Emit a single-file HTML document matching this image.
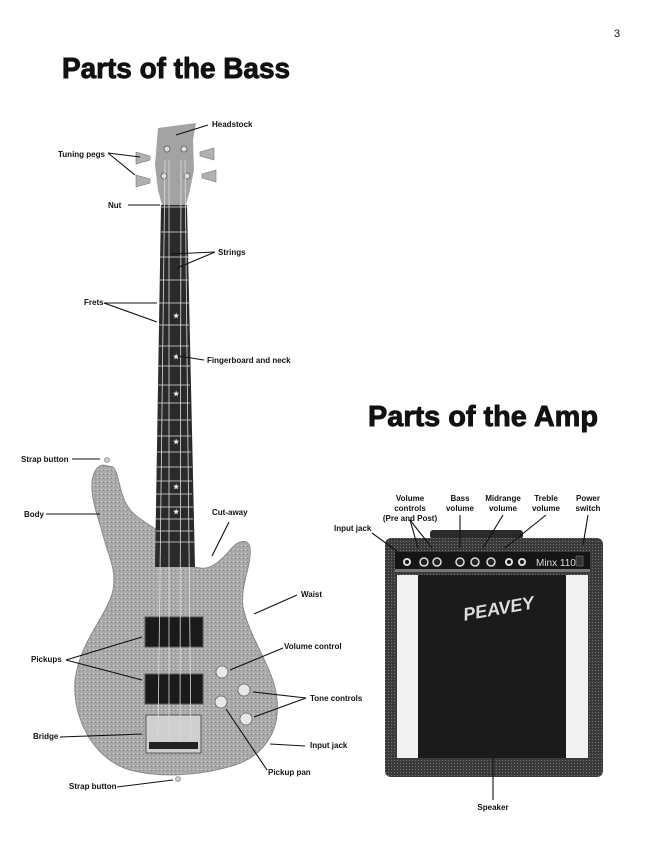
<!DOCTYPE html>
<html><head><meta charset="utf-8"><style>
html,body{margin:0;padding:0;background:#fff;}
svg{display:block;}
text{font-family:"Liberation Sans",sans-serif;font-weight:bold;fill:#111;}
.l{font-size:8px;}
</style></head><body>
<svg width="648" height="864" viewBox="0 0 648 864" xmlns="http://www.w3.org/2000/svg">
<defs>
<pattern id="spk" width="4" height="4" patternUnits="userSpaceOnUse">
<rect width="4" height="4" fill="#a9a9a9"/><rect x="1" y="1" width="1" height="1" fill="#d8d8d8"/><rect x="3" y="2" width="1" height="1" fill="#888"/>
</pattern>
<pattern id="tolex" width="3" height="3" patternUnits="userSpaceOnUse">
<rect width="3" height="3" fill="#3a3a3a"/><rect x="1" y="1" width="1" height="1" fill="#777"/>
</pattern>
</defs>
<text x="614" y="37" style="font-size:11px;font-weight:normal">3</text>
<text x="62" y="78" style="font-size:29px;stroke:#111;stroke-width:0.9" textLength="228" lengthAdjust="spacingAndGlyphs">Parts of the Bass</text>
<text x="368" y="426" style="font-size:29px;stroke:#111;stroke-width:0.9" textLength="230" lengthAdjust="spacingAndGlyphs">Parts of the Amp</text>

<!-- BASS -->
<path d="M103,465 C96,466 91,475 92,490 C93,505 99,520 103,535 C108,555 117,570 113,590 C108,615 80,640 75,680 C72,720 95,760 130,770 C160,778 200,776 235,765 C265,755 280,730 277,700 C275,670 250,640 243,607 C240,585 252,565 250,548 C248,538 238,540 230,550 C220,562 210,570 200,568 L193,567 L157,530 C145,522 132,515 127,505 C120,495 118,470 113,467 Z" fill="url(#spk)" stroke="#8a8a8a" stroke-width="1"/>
<path d="M158,128 L196,123 L193,140 L194,170 L190,190 L186,205 L162,205 L158,190 L155,165 L157,140 Z" fill="#a3a3a3"/>
<g fill="#b0b0b0" stroke="#777" stroke-width="0.6">
<path d="M136,152 L150,156 L150,160 L136,164 Z"/><path d="M136,175 L150,179 L150,183 L136,187 Z"/>
<path d="M214,148 L200,152 L200,156 L214,160 Z"/><path d="M216,170 L202,174 L202,178 L216,182 Z"/>
</g>
<g fill="#ddd" stroke="#555" stroke-width="0.8"><circle cx="167" cy="149" r="3"/><circle cx="184" cy="149" r="3"/><circle cx="164" cy="176" r="3"/><circle cx="187" cy="176" r="3"/></g>
<path d="M161,205 L187,205 L195,567 L155,567 Z" fill="#2a2a2a"/>
<g stroke="#e6e6e6" stroke-width="0.7">
<line x1="161" y1="207" x2="187" y2="207"/><line x1="161" y1="232" x2="187" y2="232"/><line x1="160" y1="257" x2="188" y2="257"/>
<line x1="160" y1="280" x2="188" y2="280"/><line x1="159" y1="303" x2="189" y2="303"/><line x1="159" y1="325" x2="189" y2="325"/>
<line x1="159" y1="346" x2="189" y2="346"/><line x1="158" y1="366" x2="190" y2="366"/><line x1="158" y1="385" x2="190" y2="385"/>
<line x1="158" y1="403" x2="190" y2="403"/><line x1="157" y1="420" x2="191" y2="420"/><line x1="157" y1="436" x2="191" y2="436"/>
<line x1="157" y1="452" x2="191" y2="452"/><line x1="157" y1="467" x2="192" y2="467"/><line x1="156" y1="481" x2="192" y2="481"/>
<line x1="156" y1="494" x2="192" y2="494"/><line x1="156" y1="507" x2="193" y2="507"/><line x1="156" y1="519" x2="193" y2="519"/>
<line x1="156" y1="531" x2="193" y2="531"/><line x1="155" y1="542" x2="194" y2="542"/>
</g>
<g><text x="173" y="318" style="fill:#eee;font-size:7px">★</text><text x="173" y="359" style="fill:#eee;font-size:7px">★</text><text x="173" y="396" style="fill:#eee;font-size:7px">★</text><text x="173" y="444" style="fill:#eee;font-size:7px">★</text><text x="173" y="489" style="fill:#eee;font-size:7px">★</text><text x="173" y="514" style="fill:#eee;font-size:7px">★</text></g>
<rect x="145" y="617" width="58" height="30" fill="#1a1a1a" stroke="#555"/>
<rect x="145" y="674" width="58" height="30" fill="#1a1a1a" stroke="#555"/>
<rect x="146" y="715" width="55" height="38" fill="#cfcfcf" stroke="#555"/>
<rect x="149" y="742" width="49" height="7" fill="#222"/>
<g fill="#e8e8e8" stroke="#666" stroke-width="0.8"><circle cx="222" cy="672" r="6"/><circle cx="244" cy="690" r="6"/><circle cx="221" cy="702" r="6"/><circle cx="246" cy="719" r="6"/></g>
<g stroke="#ddd" stroke-width="0.8">
<line x1="165" y1="160" x2="158" y2="740"/><line x1="169" y1="160" x2="169" y2="740"/><line x1="181" y1="160" x2="180" y2="740"/><line x1="185" y1="160" x2="191" y2="740"/>
</g>
<circle cx="107" cy="460" r="2.5" fill="#ccc" stroke="#777" stroke-width="0.6"/>
<circle cx="178" cy="779" r="2.5" fill="#ccc" stroke="#777" stroke-width="0.6"/>

<g stroke="#111" stroke-width="1.1" fill="none">
<line x1="208" y1="125" x2="176" y2="135"/>
<line x1="108" y1="153" x2="140" y2="157"/><line x1="108" y1="153" x2="135" y2="175"/>
<line x1="128" y1="205" x2="160" y2="205"/>
<line x1="215" y1="252" x2="170" y2="254"/><line x1="215" y1="252" x2="177" y2="268"/>
<line x1="104" y1="303" x2="157" y2="303"/><line x1="104" y1="303" x2="157" y2="322"/>
<line x1="204" y1="360" x2="178" y2="356"/>
<line x1="72" y1="459" x2="100" y2="459"/>
<line x1="46" y1="514" x2="100" y2="514"/>
<line x1="229" y1="522" x2="212" y2="556"/>
<line x1="297" y1="595" x2="254" y2="614"/>
<line x1="66" y1="660" x2="142" y2="637"/><line x1="66" y1="660" x2="142" y2="680"/>
<line x1="283" y1="648" x2="230" y2="670"/>
<line x1="306" y1="698" x2="253" y2="692"/><line x1="306" y1="698" x2="254" y2="717"/>
<line x1="60" y1="737" x2="142" y2="734"/>
<line x1="305" y1="746" x2="270" y2="744"/>
<line x1="267" y1="770" x2="226" y2="709"/>
<line x1="117" y1="787" x2="173" y2="780"/>
</g>
<g>
<text class="l" x="212" y="127">Headstock</text>
<text class="l" x="58" y="157">Tuning pegs</text>
<text class="l" x="108" y="208">Nut</text>
<text class="l" x="218" y="255">Strings</text>
<text class="l" x="84" y="305">Frets</text>
<text class="l" x="207" y="363">Fingerboard and neck</text>
<text class="l" x="21" y="462">Strap button</text>
<text class="l" x="24" y="517">Body</text>
<text class="l" x="212" y="515">Cut-away</text>
<text class="l" x="301" y="597">Waist</text>
<text class="l" x="284" y="649">Volume control</text>
<text class="l" x="31" y="662">Pickups</text>
<text class="l" x="310" y="701">Tone controls</text>
<text class="l" x="33" y="739">Bridge</text>
<text class="l" x="310" y="748">Input jack</text>
<text class="l" x="268" y="775">Pickup pan</text>
<text class="l" x="69" y="789">Strap button</text>
</g>

<!-- AMP -->
<rect x="430" y="530" width="93" height="9" rx="3" fill="#2a2a2a"/>
<rect x="385" y="538" width="218" height="239" rx="6" fill="url(#tolex)"/>
<rect x="395" y="552" width="195" height="20" fill="#151515"/>
<rect x="395" y="569" width="195" height="3" fill="#777"/>
<g fill="#e0e0e0"><circle cx="407" cy="562" r="4"/><circle cx="509" cy="562" r="4"/><circle cx="522" cy="562" r="4"/></g>
<g fill="#111"><circle cx="407" cy="562" r="2"/><circle cx="509" cy="562" r="2"/><circle cx="522" cy="562" r="2"/></g>
<g fill="#222" stroke="#ddd" stroke-width="1.5"><circle cx="424" cy="562" r="4"/><circle cx="437" cy="562" r="4"/><circle cx="460" cy="562" r="4"/><circle cx="475" cy="562" r="4"/><circle cx="491" cy="562" r="4"/></g>
<text x="536" y="566" style="font-size:10px;font-weight:normal;fill:#ddd">Minx 110</text>
<rect x="576" y="556" width="7" height="10" fill="#333" stroke="#888" stroke-width="0.5"/>
<rect x="397" y="575" width="21" height="183" fill="#f2f2f2"/>
<rect x="566" y="575" width="22" height="183" fill="#f2f2f2"/>
<rect x="418" y="575" width="148" height="183" fill="#1b1b1b"/>
<text x="462" y="616" style="font-size:18px;font-style:italic;fill:#ddd" transform="rotate(-10 490 605)">PEAVEY</text>
<g stroke="#111" stroke-width="1.1" fill="none">
<line x1="372" y1="533" x2="398" y2="552"/>
<line x1="410" y1="520" x2="418" y2="548"/><line x1="410" y1="520" x2="432" y2="548"/>
<line x1="460" y1="515" x2="460" y2="548"/>
<line x1="503" y1="515" x2="483" y2="548"/>
<line x1="546" y1="515" x2="505" y2="548"/>
<line x1="588" y1="515" x2="583" y2="545"/>
<line x1="493" y1="758" x2="493" y2="800"/>
</g>
<g>
<text class="l" x="410" y="501" text-anchor="middle">Volume</text>
<text class="l" x="410" y="511" text-anchor="middle">controls</text>
<text class="l" x="410" y="521" text-anchor="middle">(Pre and Post)</text>
<text class="l" x="460" y="501" text-anchor="middle">Bass</text>
<text class="l" x="460" y="511" text-anchor="middle">volume</text>
<text class="l" x="503" y="501" text-anchor="middle">Midrange</text>
<text class="l" x="503" y="511" text-anchor="middle">volume</text>
<text class="l" x="546" y="501" text-anchor="middle">Treble</text>
<text class="l" x="546" y="511" text-anchor="middle">volume</text>
<text class="l" x="588" y="501" text-anchor="middle">Power</text>
<text class="l" x="588" y="511" text-anchor="middle">switch</text>
<text class="l" x="334" y="531">Input jack</text>
<text class="l" x="493" y="810" text-anchor="middle">Speaker</text>
</g>
</svg>
</body></html>
